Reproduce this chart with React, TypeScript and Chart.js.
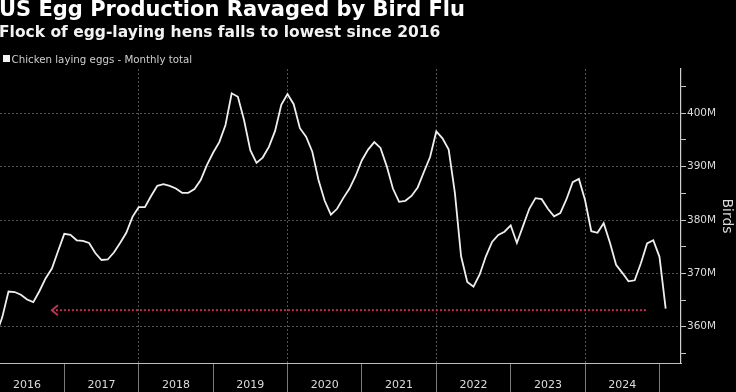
import React, { useEffect, useRef } from "react";
import { Chart, registerables } from "chart.js";

Chart.register(...registerables);

// Month index counted from Jan 2016 = 0; first data point is Feb 2016
const firstMonthIndex = 1;

// Chicken laying eggs, monthly total, millions of birds
const henMillions = [
  358.5, 361.8, 366.6, 366.5, 366.0, 365.1, 364.6, 366.7, 369.1, 370.9, 374.2,
  377.4, 377.2, 376.2, 376.1, 375.7, 373.8, 372.5, 372.6, 373.9, 375.7, 377.6, 380.6,
  382.4, 382.4, 384.5, 386.4, 386.7, 386.4, 385.9, 385.1, 385.1, 385.8, 387.5, 390.3,
  392.6, 394.6, 397.8, 403.75, 403.1, 398.7, 393.1, 390.7, 391.7, 393.7, 396.7, 401.6,
  403.6, 401.7, 397.2, 395.6, 392.8, 387.5, 383.6, 381.0, 382.1, 384.1, 385.9, 388.3,
  391.2, 393.2, 394.6, 393.5, 390.1, 385.9, 383.4, 383.6, 384.5, 386.1, 389.0, 391.8,
  396.6, 395.3, 393.2, 385.1, 373.2, 368.4, 367.5, 369.8, 373.2, 375.9, 377.2, 377.8,
  379.0, 375.7, 378.9, 382.1, 384.1, 383.9, 382.1, 380.7, 381.3, 383.9, 387.1, 387.7,
  383.7, 377.9, 377.6, 379.4, 375.8, 371.6, 370.1, 368.5, 368.7, 371.9, 375.6, 376.2,
  373.1, 363.4,
];

const yearLabels = ["2016", "2017", "2018", "2019", "2020", "2021", "2022", "2023", "2024", "2025"];
const yTickValues = [355, 360, 365, 370, 375, 380, 385, 390, 395, 400, 405];

// Red "lowest since" arrow
const arrowStartMonth = 10;
const arrowEndMonth = 106;
const arrowLevel = 363.1;

const xMin = 1.63;
const xMax = 111.47;
const yMin = 353.2;
const yMax = 408.3;

const arrowColor = "#c0304f";

const arrowHeadPlugin = {
  id: "arrowHead",
  afterDatasetsDraw(chart: any) {
    const meta = chart.getDatasetMeta(1);
    const p = meta.data[0];
    if (!p) return;
    const ctx = chart.ctx;
    ctx.save();
    ctx.strokeStyle = arrowColor;
    ctx.lineWidth = 2;
    ctx.beginPath();
    ctx.moveTo(p.x + 6, p.y - 5);
    ctx.lineTo(p.x, p.y);
    ctx.lineTo(p.x + 6, p.y + 5);
    ctx.stroke();
    ctx.restore();
  },
};

export default function App() {
  const canvasRef = useRef<HTMLCanvasElement | null>(null);

  useEffect(() => {
    const canvas = canvasRef.current;
    if (!canvas) return;
    const lineData = henMillions.map((v, i) => ({ x: firstMonthIndex + i, y: v }));
    const arrowData = [
      { x: arrowStartMonth, y: arrowLevel },
      { x: arrowEndMonth, y: arrowLevel },
    ];
    const xTickValues: number[] = [];
    yearLabels.forEach((_, i) => {
      xTickValues.push(i * 12);
      xTickValues.push(i * 12 + 6);
    });

    const chart = new Chart(canvas, {
      type: "line",
      data: {
        datasets: [
          {
            label: "Chicken laying eggs - Monthly total",
            data: lineData,
            borderColor: "#efefef",
            borderWidth: 1.8,
            pointRadius: 0,
            tension: 0,
          },
          {
            label: "arrow",
            data: arrowData,
            borderColor: arrowColor,
            borderWidth: 2,
            borderDash: [2, 2],
            pointRadius: 0,
          },
        ],
      },
      options: {
        responsive: false,
        animation: false,
        devicePixelRatio: 1,
        layout: { padding: { top: 69, left: 0, right: 0, bottom: 0 } },
        plugins: {
          legend: { display: false },
          tooltip: { enabled: false },
        },
        scales: {
          x: {
            type: "linear",
            min: xMin,
            max: xMax,
            afterBuildTicks: (scale: any) => {
              scale.ticks = xTickValues
                .filter((v) => v >= xMin && v <= xMax)
                .map((v) => ({ value: v }));
            },
            afterFit: (scale: any) => {
              scale.height = 29;
            },
            ticks: {
              autoSkip: false,
              maxRotation: 0,
              minRotation: 0,
              padding: -13,
              color: "#dcdcdc",
              font: { family: "DejaVu Sans", size: 11 },
              callback: (v: any) => {
                const n = Number(v);
                if (n % 12 === 6) return yearLabels[(n - 6) / 12];
                return "";
              },
            },
            grid: {
              drawOnChartArea: true,
              tickLength: 29,
              lineWidth: 1,
              color: (ctx: any) =>
                ctx.tick && ctx.tick.value % 24 === 0 ? "rgba(150,150,150,0.55)" : "rgba(0,0,0,0)",
              tickColor: (ctx: any) =>
                ctx.tick && ctx.tick.value % 12 === 0 ? "#7a7a7a" : "rgba(0,0,0,0)",
            },
            border: { display: true, color: "#bdbdbd", width: 1, dash: [2, 2] },
          },
          y: {
            type: "linear",
            position: "right",
            min: yMin,
            max: yMax,
            afterBuildTicks: (scale: any) => {
              scale.ticks = yTickValues.map((v) => ({ value: v }));
            },
            afterFit: (scale: any) => {
              scale.width = 55;
            },
            ticks: {
              padding: 1,
              color: "#dcdcdc",
              font: { family: "DejaVu Sans", size: 10.5 },
              callback: (v: any) => (Number(v) % 10 === 0 ? `${v}M` : ""),
            },
            grid: {
              tickLength: 5,
              lineWidth: 1,
              color: (ctx: any) =>
                ctx.tick && ctx.tick.value % 10 === 0 ? "rgba(150,150,150,0.55)" : "rgba(0,0,0,0)",
              tickColor: "#c8c8c8",
            },
            border: { display: true, color: "#cfcfcf", width: 1.2, dash: [2, 2] },
            title: {
              display: true,
              text: "Birds",
              color: "#d8d8d8",
              font: { family: "DejaVu Sans", size: 14 },
              padding: { top: 1, bottom: 0 },
            },
          },
        },
      },
      plugins: [arrowHeadPlugin],
    } as any);
    return () => chart.destroy();
  }, []);

  return (
    <div
      style={{
        position: "fixed",
        left: 0,
        top: 0,
        width: 736,
        height: 392,
        background: "#000",
        overflow: "hidden",
      }}
    >
      <canvas ref={canvasRef} width={736} height={392} style={{ display: "block", position: "absolute", left: 0, top: 0 }} />
      <div
        style={{
          position: "absolute",
          left: -1,
          top: -0.8,
          fontFamily: "DejaVu Sans",
          fontWeight: "bold",
          fontSize: 21,
          lineHeight: "21px",
          color: "#ffffff",
          whiteSpace: "nowrap",
        }}
      >
        US Egg Production Ravaged by Bird Flu
      </div>
      <div
        style={{
          position: "absolute",
          left: -1,
          top: 24.9,
          fontFamily: "DejaVu Sans",
          fontWeight: "bold",
          fontSize: 15.5,
          lineHeight: "15.5px",
          color: "#f2f2f2",
          whiteSpace: "nowrap",
        }}
      >
        Flock of egg-laying hens falls to lowest since 2016
      </div>
      <div
        style={{
          position: "absolute",
          left: 3,
          top: 55,
          width: 7,
          height: 7,
          background: "#f2f2f2",
        }}
      />
      <div
        style={{
          position: "absolute",
          left: 11.5,
          top: 54.3,
          fontFamily: "DejaVu Sans",
          fontSize: 10.25,
          lineHeight: "10.25px",
          color: "#cfcfcf",
          whiteSpace: "nowrap",
        }}
      >
        Chicken laying eggs - Monthly total
      </div>
    </div>
  );
}
